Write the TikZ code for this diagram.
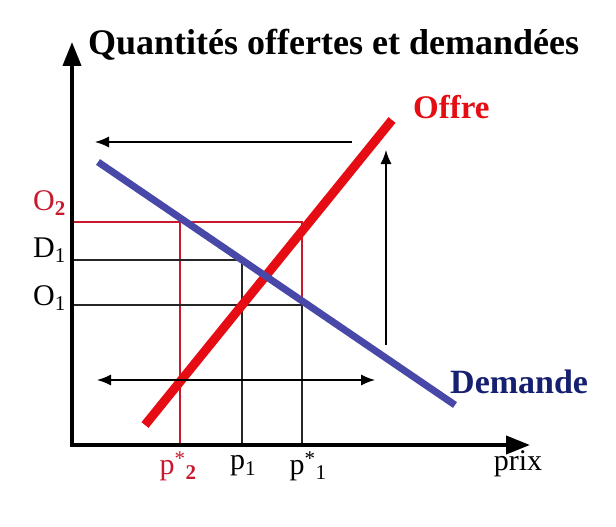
\documentclass[tikz,border=0pt]{standalone}
\usepackage{fontspec}
\setmainfont{Liberation Serif}
\usetikzlibrary{arrows.meta,positioning,calc}
\definecolor{offrered}{RGB}{230,12,20}
\definecolor{lblred}{RGB}{200,25,45}
\definecolor{demblue}{RGB}{72,72,168}
\definecolor{demnavy}{RGB}{22,32,112}
\tikzset{
  axe/.style={line width=4pt, -{Triangle[length=24pt,width=18pt]}},
  guide/.style={line width=1.1pt, draw=black!85},
  guidered/.style={line width=1.1pt, draw=lblred},
  tip/.style={Latex[length=14pt,width=11pt]},
  flux/.style={line width=1.3pt, -{Latex[length=14pt,width=11pt]}},
  fluxx/.style={line width=1.3pt, {Latex[length=14pt,width=11pt]}-{Latex[length=14pt,width=11pt]}},
  lbl/.style={font=\fontsize{30}{32}\selectfont, inner sep=0pt},
  big/.style={font=\bfseries\fontsize{#1}{#1}\selectfont, inner sep=0pt},
  big/.default=33,
}

\begin{document}
\begin{tikzpicture}[x=1pt, y=-1pt]
  \useasboundingbox (0,0) rectangle (616,527);
  % axes
  \coordinate (orig) at (72,445);
  \coordinate (ytip) at (72,42);
  \coordinate (xtip) at (530,445);
  % price and quantity levels
  \coordinate (o2) at (72,222);
  \coordinate (d1) at (72,260);
  \coordinate (o1) at (72,305);
  \coordinate (ps2) at (180,445);
  \coordinate (pp1) at (242,445);
  \coordinate (ps1) at (302,445);
  \coordinate (ps2o2) at (180,222);
  \coordinate (ps1o2) at (302,222);
  \coordinate (pp1d1) at (242,260);
  \coordinate (ps1o1) at (302,305);

  % guides
  \draw[guidered] (o2) -- (ps1o2) -- (ps1o1);
  \draw[guidered] (ps2o2) -- (ps2);
  \draw[guide] (d1) -- (pp1d1) -- (pp1);
  \draw[guide] (o1) -- (ps1o1) -- (ps1);

  % curves
  \coordinate (off0) at (145,425);
  \coordinate (off1) at (392,120);
  \coordinate (dem0) at (98,162);
  \coordinate (dem1) at (455,405);
  \draw[line width=9pt, offrered] (off0) -- (off1);
  \draw[line width=7pt, demblue] (dem0) -- (dem1);

  \draw[axe] (orig) -- (ytip);
  \draw[axe] ([xshift=-2pt]orig) -- (xtip);

  % movements
  \coordinate (ha0) at (352,142);
  \coordinate (ha1) at (95,142);
  \coordinate (va0) at (386,345);
  \coordinate (va1) at (386,150);
  \coordinate (ba0) at (97,380);
  \coordinate (ba1) at (375,380);
  \draw[flux] (ha0) -- (ha1);
  \draw[flux] (va0) -- (va1);
  \draw[fluxx] (ba0) -- (ba1);

  % labels
  \node[big=36, anchor=base west] (titre) at (88,55) {Quantités offertes et demandées};
  \node[big, anchor=base west, text=offrered] (offre) at (413,118) {Offre};
  \node[big=34, anchor=base west, text=demnavy] (demande) at (450,393) {Demande};
  \node[lbl, anchor=east, text=lblred] (lo2) at (66,203) {O\textsubscript{\textbf{2}}};
  \node[lbl, anchor=east] (ld1) at (66,250) {D\textsubscript{1}};
  \node[lbl, anchor=east] (lo1) at (66,298) {O\textsubscript{1}};
  \node[lbl, text=lblred] (lps2) at (178,466) {p\textsuperscript{*}\textsubscript{\textbf{2}}};
  \node[lbl] (lp1) at (243,466) {p\textsubscript{1}};
  \node[lbl] (lps1) at (308,466) {p\textsuperscript{*}\textsubscript{1}};
  \node[lbl, anchor=base] (prix) at (518,470) {prix};
\end{tikzpicture}
\end{document}
